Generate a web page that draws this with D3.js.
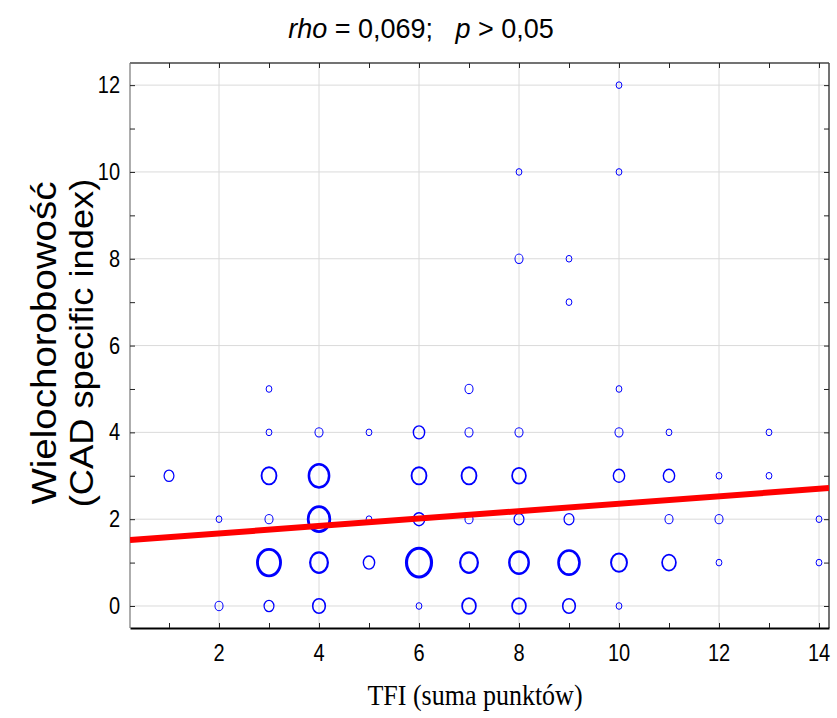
<!DOCTYPE html>
<html>
<head>
<meta charset="utf-8">
<script src="https://cdn.jsdelivr.net/npm/d3@7"></script>
<style>
  html, body { margin: 0; padding: 0; background: #fff; }
  svg { display: block; }
</style>
</head>
<body>
<svg id="chart" width="837" height="718"></svg>
<script>
// ---- data ----
// TFI score (x), CAD specific index (y), number of patients at that point (n)
const tfi = [2,3,4,6,7,8,9,10,
             3,4,5,6,7,8,9,10,11,12,14,
             2,3,4,5,6,7,8,9,11,12,14,
             1,3,4,6,7,8,10,11,12,13,
             3,4,5,6,7,8,10,11,13,
             3,7,10,
             9,
             8,9,
             8,10,
             10];
const cad = [0,0,0,0,0,0,0,0,
             1,1,1,1,1,1,1,1,1,1,1,
             2,2,2,2,2,2,2,2,2,2,2,
             3,3,3,3,3,3,3,3,3,3,
             4,4,4,4,4,4,4,4,4,
             5,5,5,
             7,
             8,8,
             10,10,
             12];
const count = [2,3,5,1,6,6,5,1,
               17,10,4,20,10,12,14,8,6,1,1,
               1,2,15,1,4,2,3,3,2,2,1,
               3,7,13,7,7,6,4,4,1,1,
               1,2,1,4,2,2,2,1,1,
               1,2,1,
               1,
               2,1,
               1,1,
               1];
const xTicks = [2,4,6,8,10,12,14];
const yTicks = [0,2,4,6,8,10,12];
const regIntercept = 1.50;
const regSlope = 0.0857;
const titleParts = [
  {t: "rho", italic: true}, {t: " = 0,069;   ", italic: false},
  {t: "p", italic: true}, {t: " > 0,05", italic: false}
];
const xTitle = "TFI (suma punktów)";
const yTitleLines = ["Wielochorobowość", "(CAD specific index)"];

// ---- layout ----
const svg = d3.select("#chart");
const L = 130, R = 829, T = 63, B = 628;
const STRETCH = 1.15; // vertical stretch seen in the reference
const x = d3.scaleLinear().domain([0.22, 14.2]).range([L, R]);
const y = d3.scaleLinear().domain([-0.507, 12.51]).range([B, T]);
const rScale = d3.scaleSqrt().domain([1, 20]).range([2.9, 12.5]);
const sansFont = "'Liberation Sans', Arial, sans-serif";

// grid
const grid = svg.append("g");
grid.selectAll("line.gx").data(xTicks).join("line")
  .attr("x1", d => x(d)).attr("x2", d => x(d)).attr("y1", T).attr("y2", B)
  .attr("stroke", "#dadada").attr("stroke-width", 1);
grid.selectAll("line.gy").data(yTicks).join("line")
  .attr("y1", d => y(d)).attr("y2", d => y(d)).attr("x1", L).attr("x2", R)
  .attr("stroke", "#dadada").attr("stroke-width", 1);

// frame
svg.append("line").attr("x1", L).attr("x2", R).attr("y1", T).attr("y2", T).attr("stroke", "#444").attr("stroke-width", 1.5);
svg.append("line").attr("x1", R).attr("x2", R).attr("y1", T).attr("y2", B).attr("stroke", "#444").attr("stroke-width", 1.5);
svg.append("line").attr("x1", L).attr("x2", L).attr("y1", T).attr("y2", B).attr("stroke", "#777").attr("stroke-width", 1.2);

// axes with inward ticks (labels drawn separately, stretched)
const allX = d3.range(1, 15);
const allY = d3.range(0, 13);
const gB = svg.append("g").attr("transform", `translate(0,${B})`)
  .call(d3.axisBottom(x).tickValues(allX).tickSizeInner(-5).tickSizeOuter(0).tickFormat(""));
gB.select(".domain").attr("stroke", "#000").attr("stroke-width", 2);
gB.selectAll(".tick line").attr("stroke", "#222");

const gT = svg.append("g").attr("transform", `translate(0,${T})`)
  .call(d3.axisTop(x).tickValues(allX).tickSizeInner(-5).tickSizeOuter(0).tickFormat(""));
gT.select(".domain").remove();
gT.selectAll(".tick line").attr("stroke", "#222");

const gL = svg.append("g").attr("transform", `translate(${L},0)`)
  .call(d3.axisLeft(y).tickValues(allY).tickSizeInner(-5).tickSizeOuter(0).tickFormat(""));
gL.select(".domain").remove();
gL.selectAll(".tick line").attr("stroke", "#222");

const gR = svg.append("g").attr("transform", `translate(${R},0)`)
  .call(d3.axisRight(y).tickValues(allY).tickSizeInner(-5).tickSizeOuter(0).tickFormat(""));
gR.select(".domain").remove();
gR.selectAll(".tick line").attr("stroke", "#222");

// tick labels
svg.append("g").selectAll("text").data(xTicks).join("text")
  .attr("transform", d => `translate(${x(d)},${B + 33}) scale(1,${STRETCH})`)
  .attr("text-anchor", "middle").attr("font-family", sansFont).attr("font-size", 20)
  .text(d => d);
svg.append("g").selectAll("text").data(yTicks).join("text")
  .attr("transform", d => `translate(${L - 10},${y(d) + 8}) scale(1,${STRETCH})`)
  .attr("text-anchor", "end").attr("font-family", sansFont).attr("font-size", 20)
  .text(d => d);

// points
const pts = tfi.map((v, i) => ({x: v, y: cad[i], n: count[i]}));
svg.append("g").selectAll("ellipse").data(pts).join("ellipse")
  .attr("cx", d => x(d.x)).attr("cy", d => y(d.y))
  .attr("rx", d => rScale(d.n)).attr("ry", d => rScale(d.n) * STRETCH)
  .attr("fill", "none").attr("stroke", "#0000ff")
  .attr("stroke-width", d => Math.max(1, rScale(d.n) * 0.25));

// regression line
svg.append("defs").append("clipPath").attr("id", "clip")
  .append("rect").attr("x", L).attr("y", T).attr("width", R - L).attr("height", B - T);
const xd = x.domain();
svg.append("line").attr("clip-path", "url(#clip)")
  .attr("x1", x(xd[0])).attr("y1", y(regIntercept + regSlope * xd[0]))
  .attr("x2", x(xd[1])).attr("y2", y(regIntercept + regSlope * xd[1]))
  .attr("stroke", "#ff0000").attr("stroke-width", 6);

// title
const title = svg.append("text").attr("transform", `translate(421,38)`)
  .attr("text-anchor", "middle").attr("font-family", sansFont).attr("font-size", 27)
  .style("white-space", "pre");
title.selectAll("tspan").data(titleParts).join("tspan")
  .attr("font-style", d => d.italic ? "italic" : "normal").text(d => d.t);

// axis titles
svg.append("text").attr("transform", `translate(475,705) scale(1,${STRETCH})`)
  .attr("text-anchor", "middle")
  .attr("font-family", "'Liberation Serif', 'Times New Roman', serif").attr("font-size", 26)
  .text(xTitle);
const yTitleSizes = [35, 33];
const yTitleBase = [56, 93];
svg.append("g").selectAll("text").data(yTitleLines).join("text")
  .attr("transform", (d, i) => `translate(${yTitleBase[i]},343) rotate(-90) scale(1.1,1)`)
  .attr("text-anchor", "middle").attr("font-family", sansFont)
  .attr("font-size", (d, i) => yTitleSizes[i])
  .text(d => d);
</script>
</body>
</html>
